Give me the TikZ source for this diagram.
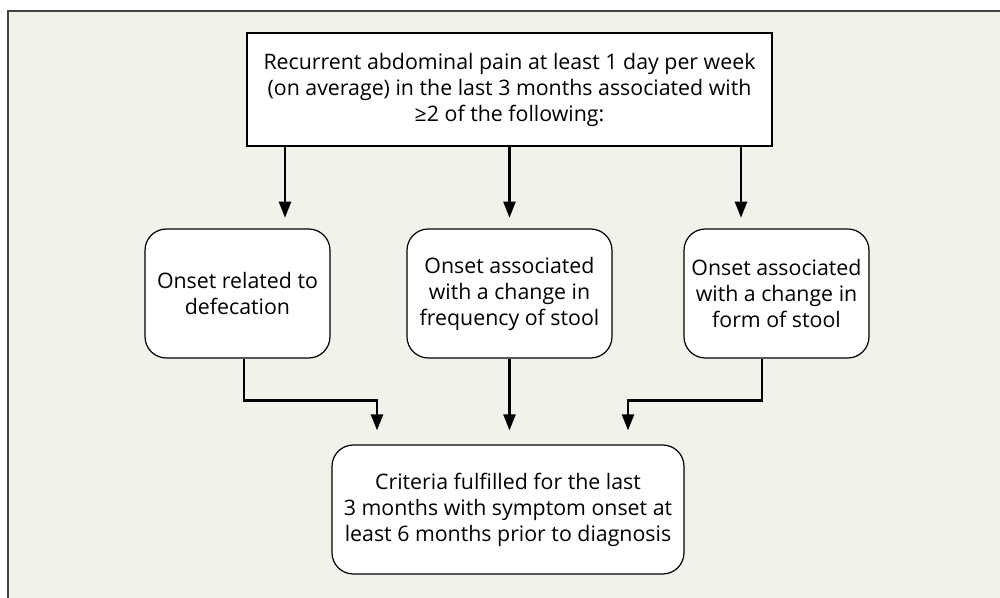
\documentclass[tikz,border=0pt]{standalone}
\usepackage{fontspec}
\setmainfont{Open Sans}
\usepackage{tikz}
\usetikzlibrary{arrows.meta, positioning, calc}

\definecolor{panelbg}{HTML}{F2F1EA}
\definecolor{framegray}{HTML}{444444}

\tikzset{
    critbox/.style={draw=black, line width=0.9pt, fill=white, rounded corners=16pt,
        align=center, inner sep=0pt, font=\fontsize{16}{19.5}\selectfont},
    topbox/.style={draw=black, line width=0.9pt, fill=white, rectangle,
        align=center, inner sep=0pt, font=\fontsize{16}{19.5}\selectfont},
    arr/.style={line width=1.8pt, -{Triangle[length=12pt, width=9pt]}},
}

\begin{document}
\begin{tikzpicture}[x=0.75pt, y=-0.75pt]
    % Panel
    \useasboundingbox (0,0) rectangle (1000,598);
    \fill[panelbg] (8,11) rectangle (1000,598);
    \draw[framegray, line width=1.5pt] (8,598) -- (8,11) -- (1000,11);

    % Top box
    \node[topbox, minimum width=525*0.75pt, minimum height=113*0.75pt] (top) at (509.5,89.5)
        {Recurrent abdominal pain at least 1 day per week\\(on average) in the last 3 months associated with\\≥2 of the following:};

    % Criteria
    \node[critbox, minimum width=185*0.75pt, minimum height=129*0.75pt] (b1) at (237.5,293.5)
        {Onset related to\\defecation};
    \node[critbox, minimum width=205*0.75pt, minimum height=129*0.75pt] (b2) at (509.5,293.5)
        {Onset associated\\with a change in\\frequency of stool};
    \node[critbox, minimum width=185*0.75pt, minimum height=129*0.75pt] (b3) at (776.5,293.5)
        {Onset associated\\with a change in\\form of stool};

    % Result
    \node[critbox, minimum width=352*0.75pt, minimum height=129*0.75pt] (bot) at (508,509.5)
        {Criteria fulfilled for the last\\3 months with symptom onset at\\least 6 months prior to diagnosis};

    % Arrows down
    \coordinate (t1) at ($(b1.north)+(47.5,0)$);
    \coordinate (t3) at ($(b3.north)+(-35.5,0)$);
    \draw[arr, shorten >=8pt] (top.south -| t1) -- (t1);
    \draw[arr, shorten >=8pt] (top.south -| b2.north) -- (b2.north);
    \draw[arr, shorten >=8pt] (top.south -| t3) -- (t3);

    % Arrows to result
    \draw[arr, shorten >=10.5pt] ($(b1.south)+(6.5,0)$) -- ++(0,42) -| ($(bot.north)+(-131,0)$);
    \draw[arr, shorten >=10.5pt] (b2.south) -- (b2.south |- bot.north);
    \draw[arr, shorten >=10.5pt] ($(b3.south)+(-14.5,0)$) -- ++(0,42) -| ($(bot.north)+(120,0)$);
\end{tikzpicture}
\end{document}
